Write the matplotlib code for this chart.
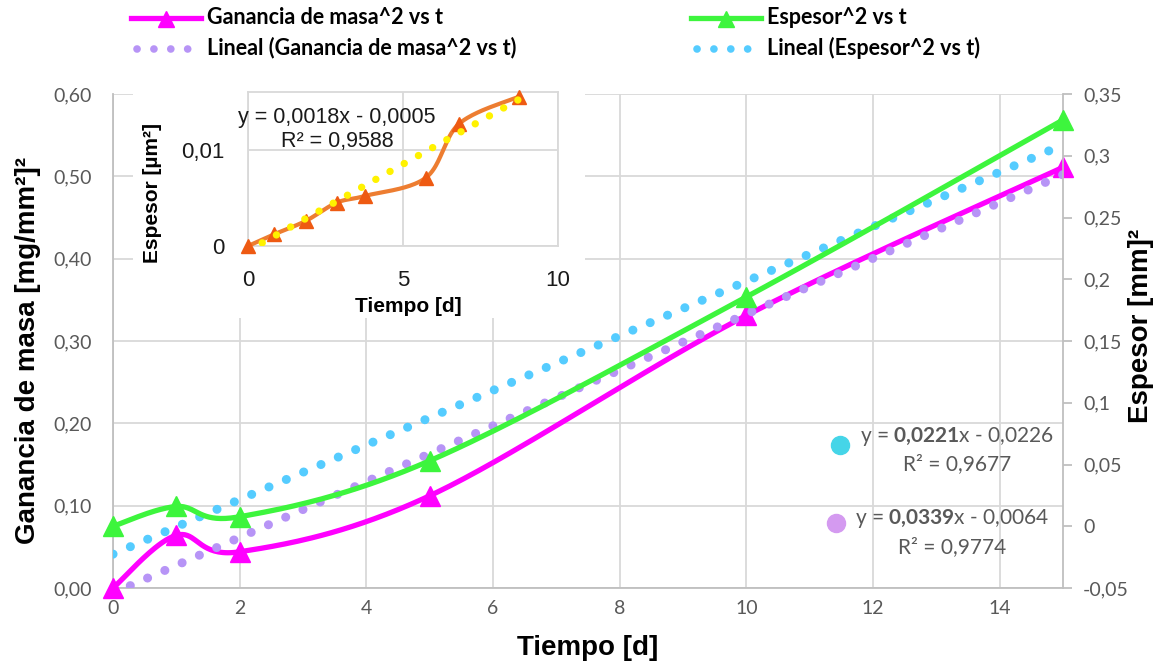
import numpy as np
import matplotlib
matplotlib.use("Agg")
import matplotlib.pyplot as plt
from matplotlib.lines import Line2D
from matplotlib.patches import Rectangle

plt.rcParams['mathtext.fontset'] = 'custom'
plt.rcParams['mathtext.rm'] = 'Lato'
plt.rcParams['mathtext.bf'] = 'Lato:bold'

# ---- data ----
t = [0, 1, 2, 5, 10, 15]
masa2 = [0.0, 0.064, 0.044, 0.112, 0.331, 0.511]        # left axis
espesor2 = [0.0, 0.016, 0.0077, 0.053, 0.1857, 0.329]    # right axis
fit_masa = (0.0339, -0.0064)
fit_esp = (0.0221, -0.0226)

t_in = [0, 0.83, 1.86, 2.86, 3.77, 5.74, 6.81, 8.73]
esp_in = [0.0, 0.0012, 0.0026, 0.0045, 0.0052, 0.0071, 0.0127, 0.0155]
fit_in = (0.0018, -0.0005)

xticks = [0, 2, 4, 6, 8, 10, 12, 14]
yleft = [0.0, 0.1, 0.2, 0.3, 0.4, 0.5, 0.6]
yright = [-0.05, 0, 0.05, 0.1, 0.15, 0.2, 0.25, 0.3, 0.35]

W, H = 1166, 666
GRID = '#D9D9D9'
GRAY = '#595959'
MAG, GRN = '#FF00FF', '#3DF53D'
PUR, CYA = '#B794F6', '#55CCFF'


def smooth(xs, ys, sx, sy, n=40):
    # Excel-like smoothed line (Catmull-Rom Bezier in screen space)
    p = np.column_stack([np.asarray(xs) * sx, np.asarray(ys) * sy])
    ext = np.vstack([p[0], p, p[-1]])
    out = [p[:1]]
    s = np.linspace(0, 1, n)[1:, None]
    for i in range(len(p) - 1):
        p0, p1, p2, p3 = ext[i], ext[i + 1], ext[i + 2], ext[i + 3]
        c1 = p1 + (p2 - p0) / 6
        c2 = p2 - (p3 - p1) / 6
        out.append((1 - s) ** 3 * p1 + 3 * (1 - s) ** 2 * s * c1
                   + 3 * (1 - s) * s ** 2 * c2 + s ** 3 * p2)
    q = np.vstack(out)
    return q[:, 0] / sx, q[:, 1] / sy


def comma(v, fmt):
    return (fmt % v).replace('.', ',')


def px(x, y):
    return x / W, 1 - y / H


fig = plt.figure(figsize=(W / 100, H / 100), dpi=100)
ax = fig.add_axes([113 / W, 1 - 588 / H, 950 / W, 494 / H])
ax2 = ax.twinx()

ax.set_xlim(0, 15)
ax.set_ylim(0, 0.6)
ax2.set_ylim(-0.05, 0.35)

ax.set_xticks(xticks)
ax.set_xticklabels([str(v) for v in xticks])
ax.set_yticks(yleft)
ax.set_yticklabels([comma(v, '%.2f') for v in yleft])
ax2.set_yticks(yright)
ax2.set_yticklabels([('%g' % v).replace('.', ',') for v in yright])

for a in (ax, ax2):
    for sp in a.spines.values():
        sp.set_visible(False)
ax.spines['left'].set_visible(True)
ax.spines['bottom'].set_visible(True)
ax2.spines['right'].set_visible(True)
for sp in (ax.spines['left'], ax.spines['bottom'], ax2.spines['right']):
    sp.set_color('#BFBFBF')
    sp.set_linewidth(1.3)

ax.grid(True, color=GRID, lw=1.3)
ax.set_axisbelow(True)
ax.tick_params(axis='both', length=0, labelsize=14, labelcolor=GRAY)
ax.tick_params(axis='y', pad=15)
ax.tick_params(axis='x', pad=9)
ax2.tick_params(axis='y', length=6.5, width=1.3, color='#BFBFBF', direction='out',
                labelsize=14, labelcolor=GRAY, pad=8)
for lab in ax.get_xticklabels() + ax.get_yticklabels() + ax2.get_yticklabels():
    lab.set_family('Lato')

sx = 950 / 15
sy_l = 494 / 0.6
sy_r = 494 / 0.4

xl = np.array([0, 15])
ax.plot(xl, fit_masa[0] * xl + fit_masa[1], color=PUR, lw=6.5,
        ls=(0, (0.01, 2.08)), dash_capstyle='round', zorder=4)
xm, ym = smooth(t, masa2, sx, sy_l)
ax.plot(xm, ym, color=MAG, lw=3.8, zorder=3, solid_capstyle='round')
ax.plot(t, masa2, ls='none', marker='^', ms=14, color=MAG, zorder=3, clip_on=False)

ax2.plot(xl, fit_esp[0] * xl + fit_esp[1], color=CYA, lw=6.5,
         ls=(0, (0.01, 2.08)), dash_capstyle='round', zorder=2)
xe, ye = smooth(t, espesor2, sx, sy_r)
ax2.plot(xe, ye, color=GRN, lw=3.8, zorder=3, solid_capstyle='round')
ax2.plot(t, espesor2, ls='none', marker='^', ms=14, color=GRN, zorder=3, clip_on=False)

# axis titles
fig.text(*px(28, 350), 'Ganancia de masa [mg/mm²]²', rotation=90, ha='center', va='center',
         fontsize=20, fontweight='bold', family='Liberation Sans')
fig.text(*px(1141, 326), 'Espesor [mm]²', rotation=90, ha='center', va='center',
         fontsize=20, fontweight='bold', family='Liberation Sans')
fig.text(*px(588, 648), 'Tiempo [d]', ha='center', va='center',
         fontsize=20, fontweight='bold', family='Liberation Sans')

# trendline labels
fig.text(*px(957, 436), r'y = $\mathbf{0{,}0221}$x - 0,0226', ha='center', va='center',
         fontsize=15, color=GRAY, family='Lato')
fig.text(*px(957, 464), 'R² = 0,9677', ha='center', va='center',
         fontsize=15, color=GRAY, family='Lato')
fig.text(*px(952, 519), r'y = $\mathbf{0{,}0339}$x - 0,0064', ha='center', va='center',
         fontsize=15, color=GRAY, family='Lato')
fig.text(*px(952, 547), 'R² = 0,9774', ha='center', va='center',
         fontsize=15, color=GRAY, family='Lato')
fig.add_artist(Line2D([840 / W], [1 - 445 / H], marker='o', ms=13, color='#45D5E8', ls='none'))
fig.add_artist(Line2D([836 / W], [1 - 523 / H], marker='o', ms=13, color='#D49AF0', ls='none'))

# legend (drawn by hand)
lf = dict(fontsize=15.5, fontweight='bold', family='Lato', va='center', ha='left')
fig.add_artist(Line2D([131 / W, 201 / W], [1 - 18 / H] * 2, color=MAG, lw=3.8))
fig.add_artist(Line2D([166 / W], [1 - 19 / H], marker='^', ms=12, color=MAG))
fig.text(*px(207, 17), 'Ganancia de masa^2 vs t', **lf)
fig.add_artist(Line2D([691 / W, 761 / W], [1 - 18 / H] * 2, color=GRN, lw=3.8))
fig.add_artist(Line2D([726 / W], [1 - 19 / H], marker='^', ms=12, color=GRN))
fig.text(*px(767, 17), 'Espesor^2 vs t', **lf)
fig.add_artist(Line2D([137 / W, 190 / W], [1 - 49 / H] * 2, color=PUR, lw=5.5,
                      ls=(0, (0.01, 2.2)), dash_capstyle='round'))
fig.text(*px(207, 48), 'Lineal (Ganancia de masa^2 vs t)', **lf)
fig.add_artist(Line2D([697 / W, 750 / W], [1 - 49 / H] * 2, color=CYA, lw=5.5,
                      ls=(0, (0.01, 2.2)), dash_capstyle='round'))
fig.text(*px(767, 48), 'Lineal (Espesor^2 vs t)', **lf)

# ---- inset chart ----
fig.add_artist(Rectangle(px(133, 318), 452 / W, 243 / H, transform=fig.transFigure,
                         facecolor='white', edgecolor='none', zorder=5))
axi = fig.add_axes([248 / W, 1 - 246 / H, 310 / W, 154 / H], zorder=6)
axi.set_xlim(0, 10)
axi.set_ylim(0, 0.016)
axi.set_xticks([0, 5, 10])
axi.set_yticks([0, 0.01])
axi.set_yticklabels(['0', '0,01'])
axi.grid(True, color=GRID, lw=1.3)
axi.set_axisbelow(True)
for sp in axi.spines.values():
    sp.set_color(GRID)
    sp.set_linewidth(1.3)
axi.tick_params(length=0, labelsize=16, labelcolor='#1A1A1A')
axi.tick_params(axis='x', pad=17)
axi.tick_params(axis='y', pad=17)
for lab in axi.get_xticklabels() + axi.get_yticklabels():
    lab.set_family('Liberation Sans')

xi = np.array([0, max(t_in)])
axi.plot(xi, fit_in[0] * xi + fit_in[1], color='#FFF200', lw=5.3,
         ls=(0, (0.01, 2.2)), dash_capstyle='round', zorder=4)
xs_, ys_ = smooth(t_in, esp_in, 31, 154 / 0.016)
axi.plot(xs_, ys_, color='#ED7D31', lw=3, zorder=3)
axi.plot(t_in, esp_in, ls='none', marker='^', ms=10, color='#EE5A12', zorder=3, clip_on=False)

fig.text(*px(337, 118), 'y = 0,0018x - 0,0005', ha='center', va='center', fontsize=15.5,
         family='Liberation Sans', color='#1A1A1A', zorder=7)
fig.text(*px(337, 141), 'R² = 0,9588', ha='center', va='center', fontsize=15.5,
         family='Liberation Sans', color='#1A1A1A', zorder=7)

fig.text(*px(408, 306), 'Tiempo [d]', ha='center', va='center', fontsize=15,
         fontweight='bold', family='Liberation Sans', zorder=7)
fig.text(*px(153, 193), 'Espesor [µm²]', rotation=90, ha='center', va='center', fontsize=15,
         fontweight='bold', family='Liberation Sans', zorder=7)

fig.savefig('out.png', dpi=100)
